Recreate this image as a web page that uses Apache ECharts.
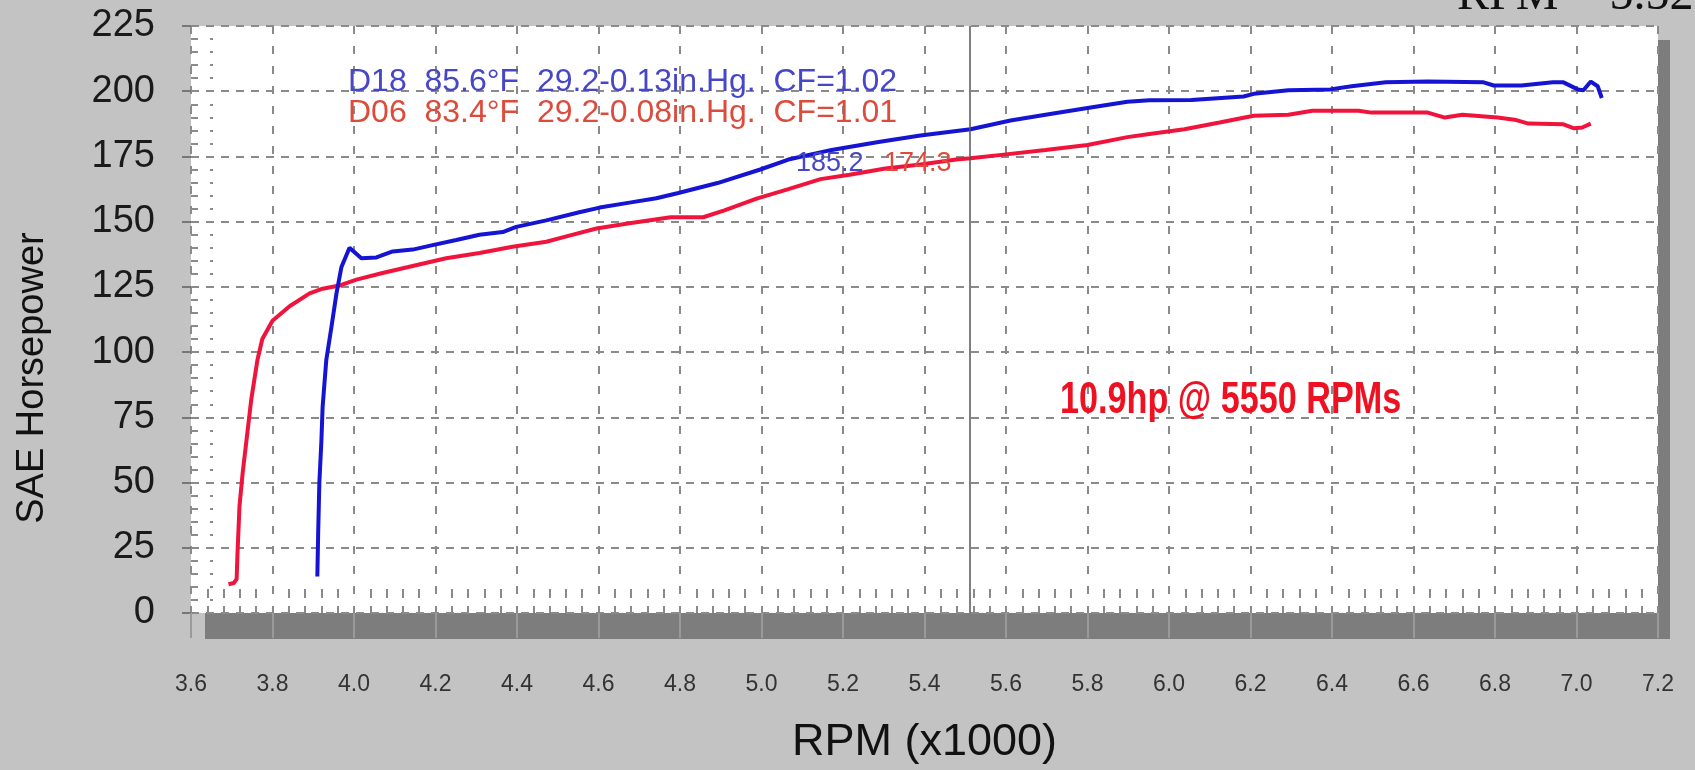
<!DOCTYPE html>
<html>
<head>
<meta charset="utf-8">
<title>SAE Horsepower</title>
<script src="https://cdn.jsdelivr.net/npm/echarts@6.0.0/dist/echarts.min.js"></script>
<style>
  html, body { margin: 0; padding: 0; background: #c3c3c3; }
  #chart { width: 1695px; height: 770px; }
</style>
</head>
<body>
<div id="chart"></div>
<script>
// dyno run D06 (red) and D18 (blue), rpm in thousands
const rpmD06 = [3.692, 3.705, 3.712, 3.714, 3.719, 3.727, 3.736, 3.748, 3.763, 3.775, 3.800, 3.842, 3.891, 3.923, 3.964,
  4.006, 4.070, 4.144, 4.226, 4.308, 4.389, 4.472, 4.512, 4.595, 4.676, 4.777, 4.857, 4.909, 4.988, 5.066, 5.145, 5.216,
  5.304, 5.390, 5.478, 5.513, 5.594, 5.697, 5.800, 5.898, 5.952, 6.038, 6.124, 6.208, 6.293, 6.352, 6.465, 6.497, 6.635,
  6.677, 6.720, 6.806, 6.848, 6.882, 6.968, 6.994, 7.014, 7.035]
const hpD06 = [11, 11.5, 13, 22.5, 41, 54, 66, 82, 97, 105, 112, 117.6, 122.5, 124.3, 125.5,
  127.8, 130.3, 133, 136, 138, 140.4, 142.3, 144, 147.4, 149.4, 151.7, 151.7, 154.3, 158.8, 162.5, 166.3, 168,
  170.4, 171.9, 173.8, 174.3, 175.7, 177.5, 179.4, 182.4, 183.6, 185.4, 188, 190.6, 191, 192.5, 192.5, 191.8, 191.8,
  189.9, 191, 189.9, 189.1, 187.6, 187.3, 185.8, 186.1, 187.6]

const rpmD18 = [3.910, 3.912, 3.915, 3.920, 3.923, 3.932, 3.945, 3.957, 3.969, 3.989, 4.018, 4.055, 4.095, 4.144, 4.193,
  4.251, 4.308, 4.365, 4.398, 4.472, 4.553, 4.603, 4.676, 4.742, 4.796, 4.892, 4.997, 5.066, 5.172, 5.287, 5.390,
  5.513, 5.611, 5.697, 5.800, 5.898, 5.952, 6.055, 6.183, 6.208, 6.293, 6.396, 6.448, 6.532, 6.635, 6.772, 6.797,
  6.865, 6.942, 6.968, 7.003, 7.017, 7.035, 7.052, 7.062]
const hpD18 = [14, 30, 50, 66, 79, 97, 110, 122.5, 132.5, 140, 136, 136.3, 138.6, 139.3, 141,
  143, 145, 146, 148, 150.5, 153.6, 155.4, 157.3, 159, 161, 164.8, 170, 173.8, 177.5, 180.5, 183,
  185.4, 188.8, 191, 193.6, 196, 196.5, 196.6, 198, 199, 200.4, 200.7, 201.9, 203.4, 203.7, 203.4, 202.2,
  202.2, 203.4, 203.4, 200.7, 200.4, 203.7, 201.9, 197.4]

const runLabels = ['D18  85.6°F  29.2-0.13in.Hg.  CF=1.02', 'D06  83.4°F  29.2-0.08in.Hg.  CF=1.01']
const cursorRpm = 5.515
const cursorValues = ['185.2', '174.3']
const gainText = '10.9hp @ 5550 RPMs'

const rpmMin = 3.6, rpmMax = 7.2, rpmStep = 0.2
const hpMin = 0, hpMax = 225, hpStep = 25

const sans = '"Liberation Sans", Arial, sans-serif'
const zip = (xs, ys) => xs.map((x, i) => [x, ys[i]])

const chart = echarts.init(document.getElementById('chart'))

const option = {
  animation: false,
  backgroundColor: '#c3c3c3',
  grid: {
    left: 191, right: 37, top: 26, bottom: 143,
    show: true, backgroundColor: '#ffffff', borderWidth: 0
  },
  xAxis: [
    {
      type: 'value', min: rpmMin, max: rpmMax, interval: rpmStep,
      name: 'RPM (x1000)', nameLocation: 'middle', nameGap: 107,
      nameTextStyle: { fontFamily: sans, fontSize: 45, color: '#111' },
      axisLine: { show: false },
      axisTick: { show: true, length: 25, lineStyle: { color: '#9a9a9a', width: 2 } },
      axisLabel: { margin: 60, fontFamily: sans, fontSize: 23, color: '#333', formatter: v => v.toFixed(1) },
      splitLine: { show: true, lineStyle: { color: '#8a8a8a', width: 2, type: [8, 12] } }
    },
    {
      // inside minor ticks along the bottom
      type: 'value', min: rpmMin, max: rpmMax, interval: rpmStep, position: 'bottom',
      axisLine: { show: false }, axisLabel: { show: false }, splitLine: { show: false },
      axisTick: { show: false, inside: true },
      minorTick: { show: true, splitNumber: 5, length: 24, lineStyle: { color: '#8a8a8a', width: 2, type: [7, 8, 9, 50] } }
    }
  ],
  yAxis: [
    {
      type: 'value', min: hpMin, max: hpMax, interval: hpStep,
      axisLine: { show: false },
      axisTick: { show: true, length: 9, lineStyle: { color: '#777', width: 2 } },
      axisLabel: { margin: 36, fontFamily: sans, fontSize: 38, color: '#1a1a1a' },
      splitLine: { show: true, lineStyle: { color: '#8a8a8a', width: 2, type: [8, 7] } }
    },
    {
      type: 'value', min: hpMin, max: hpMax, interval: hpStep, position: 'left',
      axisLine: { show: false }, axisLabel: { show: false }, splitLine: { show: false },
      axisTick: { show: false, inside: true },
      minorTick: { show: true, splitNumber: 5, length: 22, lineStyle: { color: '#8a8a8a', width: 2, type: [7, 12, 3, 50] } }
    }
  ],
  series: [
    {
      name: 'D06', type: 'line', data: zip(rpmD06, hpD06),
      symbol: 'none', lineStyle: { color: '#f0143c', width: 4 }, itemStyle: { color: '#f0143c' }, z: 3
    },
    {
      name: 'D18', type: 'line', data: zip(rpmD18, hpD18),
      symbol: 'none', lineStyle: { color: '#1414d2', width: 4 }, itemStyle: { color: '#1414d2' }, z: 4,
      markLine: {
        silent: true, symbol: 'none', label: { show: false },
        lineStyle: { color: '#555', width: 1.5, type: 'solid' },
        data: [{ xAxis: cursorRpm }]
      }
    }
  ],
  graphic: [
    // drop shadow behind the white plot area
    { type: 'rect', z: -10, silent: true, shape: { x: 205, y: 40, width: 1465, height: 599 }, style: { fill: '#7d7d7d' } },
    {
      type: 'text', x: 33, y: 378, rotation: Math.PI / 2, z: 10, silent: true,
      style: { text: 'SAE Horsepower', font: '38px ' + sans, fill: '#111',
        textAlign: 'center', align: 'center', textVerticalAlign: 'middle', verticalAlign: 'middle' }
    },
    {
      type: 'text', x: 1457, y: 20, z: 10, silent: true,
      style: { text: 'RPM = 5.52', font: '48px "Liberation Serif", "Times New Roman", serif', fill: '#111',
        textVerticalAlign: 'bottom', verticalAlign: 'bottom' }
    },
    {
      type: 'text', x: 348, y: 82, z: 10, silent: true,
      style: { text: runLabels[0], font: '32px ' + sans, fill: '#4646c8', textVerticalAlign: 'middle', verticalAlign: 'middle' }
    },
    {
      type: 'text', x: 348, y: 113, z: 10, silent: true,
      style: { text: runLabels[1], font: '32px ' + sans, fill: '#dc4b3c', textVerticalAlign: 'middle', verticalAlign: 'middle' }
    },
    {
      type: 'text', x: 796, y: 164, z: 10, silent: true,
      style: { text: cursorValues[0], font: '27px ' + sans, fill: '#4646c8', textVerticalAlign: 'middle', verticalAlign: 'middle' }
    },
    {
      type: 'text', x: 884, y: 164, z: 10, silent: true,
      style: { text: cursorValues[1], font: '27px ' + sans, fill: '#dc4b3c', textVerticalAlign: 'middle', verticalAlign: 'middle' }
    },
    {
      type: 'text', x: 1060, y: 401, z: 10, silent: true, scaleX: 0.76,
      style: { text: gainText, font: 'bold 45px ' + sans, fill: '#ee1122', textVerticalAlign: 'middle', verticalAlign: 'middle' }
    }
  ]
}

chart.setOption(option)
window.addEventListener('resize', () => chart.resize())
</script>
</body>
</html>
